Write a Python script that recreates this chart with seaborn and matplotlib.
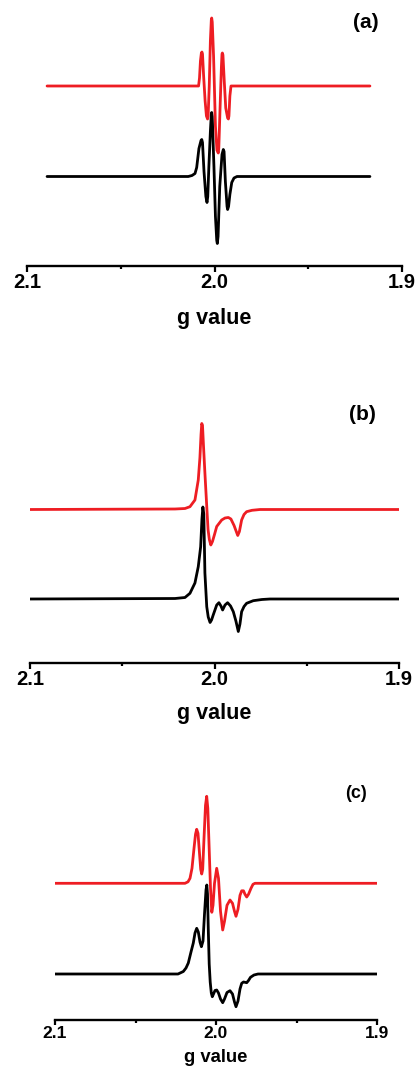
import matplotlib
matplotlib.use("Agg")
import matplotlib.pyplot as plt
import pandas as pd
import seaborn as sns

# ---------------- data ----------------
tick_values = [2.1, 2.0, 1.9]
tick_labels = ["2.1", "2.0", "1.9"]
minor_ticks = [2.05, 1.95]
panel_labels = ["(a)", "(b)", "(c)"]
x_title = "g value"

# panel (a) – simulated (red) and experimental (black)
g_a_red = [2.0893, 2.0085, 2.0080, 2.0075, 2.0070, 2.0067, 2.0064, 2.0058, 2.0050,
           2.0043, 2.0037, 2.0034, 2.0028, 2.0022, 2.0017, 2.0015, 2.0012, 2.0005,
           1.9995, 1.9987, 1.9980, 1.9977, 1.9970, 1.9963, 1.9960, 1.9958, 1.9955,
           1.9948, 1.9940, 1.9930, 1.9926, 1.9923, 1.9918, 1.9912, 1.9171]
a_red = [0, 0, 8, 25, 33, 34, 32, 10, -15,
         -30, -33, -30, 0, 45, 66, 68, 64, 30,
         -40, -64, -67, -62, -20, 20, 32, 33, 31,
         5, -22, -32, -33, -30, -10, 0, 0]

g_a_blk = [2.0893, 2.0140, 2.0120, 2.0104, 2.0095, 2.0083, 2.0072, 2.0068, 2.0064,
           2.0056, 2.0046, 2.0040, 2.0036, 2.0030, 2.0022, 2.0017, 2.0015, 2.0012,
           2.0003, 1.9995, 1.9988, 1.9985, 1.9981, 1.9972, 1.9960, 1.9953, 1.9949,
           1.9942, 1.9933, 1.9930, 1.9925, 1.9918, 1.9908, 1.9896, 1.9880, 1.9171]
a_blk = [0, 0, 1, 3, 9, 28, 36, 37, 34,
         5, -20, -26, -20, 10, 45, 62, 64, 60,
         10, -40, -64, -67, -60, -10, 22, 27, 25,
         -5, -30, -33, -30, -18, -6, -1.5, 0, 0]

# panel (b)
g_b_red = [2.1, 2.0214, 2.0160, 2.0133, 2.0106, 2.0088, 2.0079, 2.0073, 2.0069, 2.0065,
           2.0060, 2.0052, 2.0042, 2.0035, 2.0028, 2.0020, 2.0011, 2.0000, 1.9988,
           1.9961, 1.9943, 1.9925, 1.9911, 1.9894, 1.9874, 1.9865, 1.9853, 1.9840,
           1.9826, 1.9797, 1.9753, 1.9]
b_red = [0, 0.5, 1, 2.8, 9.5, 29.5, 52, 75, 86, 84,
         65, 36.5, 3, -20, -30, -35.5, -32, -25, -17,
         -10.5, -8.5, -8, -9.5, -16, -26, -22, -10.5, -5,
         -2.2, -0.8, 0, 0]

g_b_blk = [2.1, 2.0214, 2.0160, 2.0133, 2.0106, 2.0088, 2.0075, 2.0068, 2.0063, 2.0058,
           2.0052, 2.0042, 2.0034, 2.0024, 2.0016, 2.0007, 1.9988, 1.9976, 1.9965,
           1.9956, 1.9943, 1.9929, 1.9913, 1.9898, 1.9884, 1.9871, 1.9862, 1.9853,
           1.9840, 1.9826, 1.9790, 1.9743, 1.9699, 1.9]
b_blk = [0, 0.5, 1.5, 5.7, 16, 32.3, 52.3, 80, 92, 85,
         26, -7.7, -18, -23.5, -21, -16, -6, -3.7, -7,
         -11, -6, -3.7, -7, -12.7, -22, -32.5, -25, -12.7,
         -7.5, -4.3, -1.7, -0.5, 0, 0]

# panel (c)
g_c_red = [2.1, 2.01925, 2.01739, 2.01615, 2.01491, 2.01366, 2.01273, 2.01199, 2.01118,
           2.01025, 2.00950, 2.00888, 2.00826, 2.00745, 2.00652, 2.00578, 2.00509,
           2.00435, 2.00342, 2.00261, 2.00186, 2.00093, 1.99957, 1.99845, 1.99720,
           1.99584, 1.99472, 1.99317, 1.99130, 1.98975, 1.98851, 1.98758, 1.98634,
           1.98509, 1.98404, 1.98292, 1.98199, 1.98093, 1.97981, 1.97826, 1.97702,
           1.97578, 1.9]
c_red = [0, 0, 1.5, 5, 15, 35, 49, 54, 50,
         30, 14, 9.3, 14, 45, 78, 87, 75,
         40, -5, -29, -22, 0, 15, 5, -28,
         -46.7, -38, -22, -16.7, -20, -28, -33, -26,
         -12, -7.5, -7.5, -11, -13.7, -11, -5, -1,
         0, 0]

g_c_blk = [2.1, 2.02360, 2.02031, 2.01863, 2.01720, 2.01553, 2.01410, 2.01304, 2.01199,
           2.01099, 2.00994, 2.00907, 2.00807, 2.00714, 2.00621, 2.00571, 2.00528,
           2.00478, 2.00422, 2.00360, 2.00292, 2.00230, 2.00155, 2.00062, 1.99957,
           1.99845, 1.99720, 1.99584, 1.99472, 1.99317, 1.99130, 1.98975, 1.98851,
           1.98758, 1.98634, 1.98509, 1.98404, 1.98292, 1.98199, 1.98093, 1.97981,
           1.97857, 1.97640, 1.97391, 1.9]
c_blk = [0, 0, 2.5, 6, 11, 22, 31, 41, 45.7,
         42, 32, 27.3, 33, 60, 84, 89, 80,
         44, 10, -8, -19, -22.7, -20, -16.5, -16,
         -19, -25, -28.7, -25, -18.5, -16.7, -20, -28,
         -32.7, -27, -15, -9.3, -8, -8.3, -8.7, -6.5,
         -3.3, -1, 0, 0]

# ---------------- style ----------------
sns.set_style("ticks")
plt.rcParams["font.family"] = ["Liberation Sans", "DejaVu Sans"]
plt.rcParams["text.color"] = "black"
plt.rcParams["axes.labelcolor"] = "black"
plt.rcParams["xtick.color"] = "black"

RED = "#EE1D23"
BLACK = "#000000"
W, H = 419, 1066
fig = plt.figure(figsize=(W / 100, H / 100), dpi=100)
fig.patch.set_facecolor("white")

# layout in pixels: left, right, spine y, top y, red offset, black offset,
# label y, panel-label x/y, font scale
panels = [
    dict(l=27, r=402, sy=266, ty=0, ro=180, bo=89.5, ly=319, px=366, py=23, s=1.0,
         red=(g_a_red, a_red), blk=(g_a_blk, a_blk), lab=panel_labels[0]),
    dict(l=30, r=399, sy=663, ty=340, ro=153.5, bo=64, ly=713, px=362, py=415, s=1.0,
         red=(g_b_red, b_red), blk=(g_b_blk, b_blk), lab=panel_labels[1]),
    dict(l=55, r=377, sy=1020, ty=720, ro=136.7, bo=46, ly=1058, px=356, py=794, s=0.86,
         red=(g_c_red, c_red), blk=(g_c_blk, c_blk), lab=panel_labels[2]),
]

for p in panels:
    h = p["sy"] - p["ty"]
    ax = fig.add_axes([p["l"] / W, 1 - p["sy"] / H, (p["r"] - p["l"]) / W, h / H])
    ax.set_facecolor("none")
    df_b = pd.DataFrame({"g": p["blk"][0], "signal": [v + p["bo"] for v in p["blk"][1]]})
    df_r = pd.DataFrame({"g": p["red"][0], "signal": [v + p["ro"] for v in p["red"][1]]})
    sns.lineplot(data=df_b, x="g", y="signal", ax=ax, color=BLACK, lw=2.0,
                 estimator=None, sort=False)
    sns.lineplot(data=df_r, x="g", y="signal", ax=ax, color=RED, lw=2.0,
                 estimator=None, sort=False)
    ax.set_xlim(2.1, 1.9)
    ax.set_ylim(0, h)
    ax.set_yticks([])
    ax.set_ylabel("")
    sns.despine(ax=ax, left=True)
    ax.spines["bottom"].set_linewidth(1.7)
    ax.spines["bottom"].set_color("black")
    ax.set_xticks(tick_values)
    ax.set_xticklabels(tick_labels, fontweight="bold")
    ax.set_xticks(minor_ticks, minor=True)
    ax.tick_params(axis="x", which="major", bottom=True, direction="out",
                   length=4.5 * p["s"], width=1.6, labelsize=14.5 * p["s"], pad=0.5,
                   colors="black")
    ax.tick_params(axis="x", which="minor", bottom=True, direction="out",
                   length=2.5 * p["s"], width=1.6, colors="black")
    ax.set_xlabel(x_title, fontsize=15.5 * p["s"], fontweight="bold", color="black")
    ax.xaxis.set_label_coords(0.5, (p["sy"] - p["ly"]) / h)
    ax.xaxis.label.set_va("center")
    fig.text(p["px"] / W, 1 - p["py"] / H, p["lab"], ha="center", va="center",
             fontsize=15 * p["s"], fontweight="bold", color="black")

fig.savefig("out.png", dpi=100, facecolor="white")
